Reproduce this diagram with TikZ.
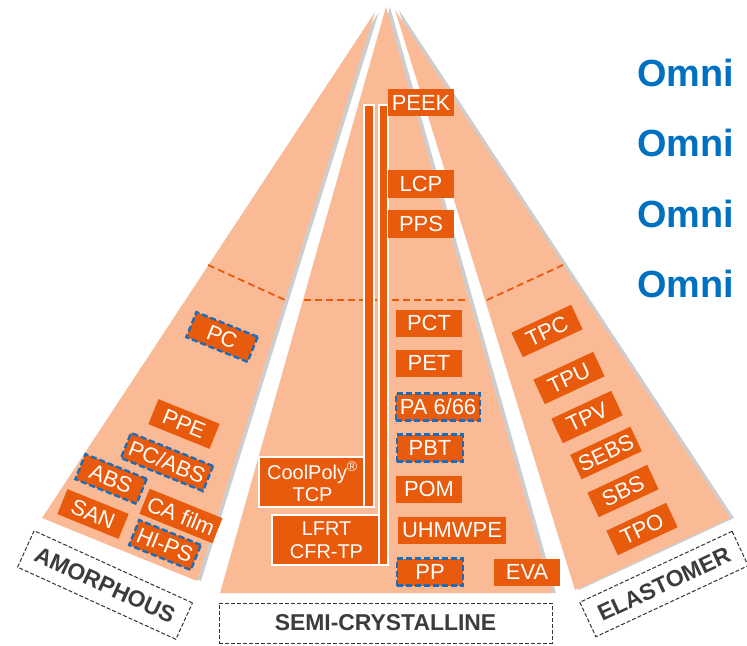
\documentclass[tikz,border=0pt]{standalone}
\usepackage{fontspec}
\setmainfont{Liberation Sans}
\usetikzlibrary{positioning,calc}
\definecolor{peach}{RGB}{251,186,150}
\definecolor{boxorange}{RGB}{232,90,12}
\definecolor{dashblue}{RGB}{28,108,184}
\definecolor{omniblue}{RGB}{0,112,192}
\definecolor{labelgray}{RGB}{60,60,60}

\begin{document}
\begin{tikzpicture}[x=1bp, y=-1bp,
  wedge/.style={fill=peach, draw=none},
  wedgeshadow/.style={fill=black!28, draw=none, opacity=0.7},
  divider/.style={draw=boxorange, line width=1.8bp, dash pattern=on 7bp off 4bp},
  grade/.style={fill=boxorange, text=white, font=\fontsize{22}{22}\selectfont,
    minimum width=66bp, minimum height=27bp, inner xsep=4bp, inner ysep=0pt},
  omni/.style={grade, draw=dashblue, line width=2.4bp, dash pattern=on 6bp off 3bp},
  tcp/.style={fill=boxorange, draw=white, line width=2.4bp, text=white, align=center,
    font=\fontsize{20}{23}\selectfont, inner sep=0pt},
  bar/.style={fill=boxorange, draw=white, line width=2.4bp},
  category/.style={draw=black!80, line width=1bp, dash pattern=on 4bp off 2bp, fill=white,
    text=labelgray, font=\fontsize{23}{23}\selectfont\bfseries, inner sep=0pt},
  brand/.style={text=omniblue, font=\fontsize{38}{38}\selectfont\bfseries, inner sep=0pt, anchor=base west}
]
\useasboundingbox (0,0) rectangle (747,646);

\fill[wedgeshadow, xshift=4bp] (375,12) -- (42,518) -- (197,581) -- cycle;
\fill[wedge] (375,12) -- (42,518) -- (197,581) -- cycle;
\fill[wedgeshadow, xshift=4bp] (386,7) -- (220,593) -- (552,593) -- cycle;
\fill[wedge] (386,7) -- (220,593) -- (552,593) -- cycle;
\fill[wedgeshadow, xshift=4bp] (395,10) -- (575,590) -- (730,518) -- cycle;
\fill[wedge] (395,10) -- (575,590) -- (730,518) -- cycle;

\draw[divider] (208,265) -- (285,300);
\draw[divider] (304,300) -- (469,300);
\draw[divider] (487,300) -- (563,265);

\node[tcp, minimum width=107bp, minimum height=50bp] (coolpoly) at (312.5,482) {CoolPoly\textsuperscript{\textregistered}\\TCP};
\draw[bar] (364,105) rectangle (374,507);
\node[tcp, minimum width=109bp, minimum height=50bp] (lfrt) at (326.5,540) {LFRT\\CFR-TP};
\draw[bar] (379,105) rectangle (388,565);

\node[grade] (peek) at (421,103) {PEEK};
\node[grade] (lcp)  at (421,184) {LCP};
\node[grade] (pps)  at (421,224) {PPS};
\node[grade] (pct)  at (429,323) {PCT};
\node[grade] (pet)  at (429,363) {PET};
\node[omni]  (pa)   at (438,407) {PA 6/66};
\node[omni]  (pbt)  at (430,448) {PBT};
\node[grade] (pom)  at (429,489) {POM};
\node[grade] (uhmwpe) at (452,530) {UHMWPE};
\node[omni]  (pp)   at (430,572) {PP};
\node[grade] (eva)  at (527,572) {EVA};

\node[omni,  rotate=-22] (pc)     at (222,337) {PC};
\node[grade, rotate=-22] (ppe)    at (184,424) {PPE};
\node[omni,  rotate=-22] (pcabs)  at (167,462) {PC/ABS};
\node[omni,  rotate=-22] (abs)    at (111,479) {ABS};
\node[grade, rotate=-22] (san)    at (93,514)  {SAN};
\node[grade, rotate=-22] (cafilm) at (181,516) {CA film};
\node[omni,  rotate=-22] (hips)   at (165,545) {HI-PS};

\node[grade, rotate=25] (tpc)  at (547,331) {TPC};
\node[grade, rotate=25] (tpu)  at (569,378) {TPU};
\node[grade, rotate=25] (tpv)  at (587,417) {TPV};
\node[grade, rotate=25] (sebs) at (606,453) {SEBS};
\node[grade, rotate=25] (sbs)  at (623,491) {SBS};
\node[grade, rotate=25] (tpo)  at (642,529) {TPO};

\node[category, rotate=-24.5, minimum width=174bp, minimum height=40bp] (amorph) at (105,585) {AMORPHOUS};
\node[category, minimum width=333bp, minimum height=40bp] (semi) at (385.5,623) {SEMI-CRYSTALLINE};
\node[category, rotate=25, minimum width=168bp, minimum height=38bp] (elast) at (664,584) {ELASTOMER};

\node[brand] (omni1) at (637,87)  {Omni};
\node[brand] (omni2) at (637,157) {Omni};
\node[brand] (omni3) at (637,227) {Omni};
\node[brand] (omni4) at (637,297) {Omni};
\end{tikzpicture}
\end{document}
